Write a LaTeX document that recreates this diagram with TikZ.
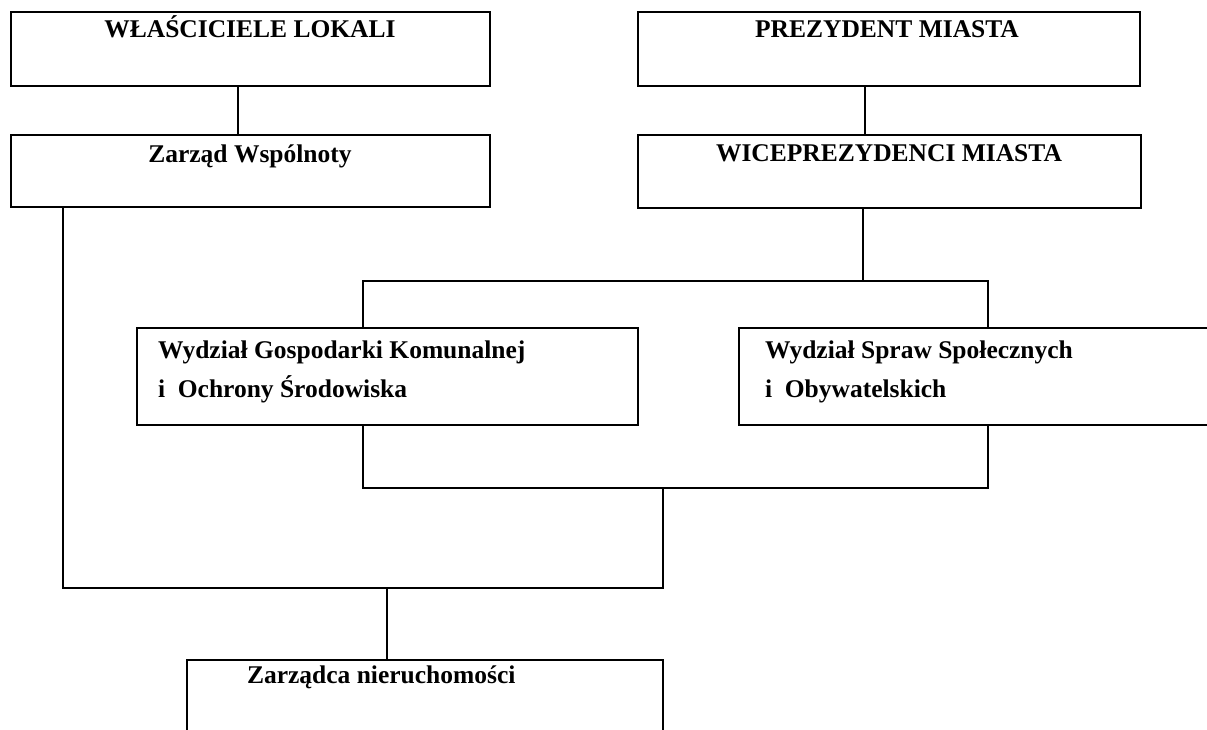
\documentclass[tikz,border=0pt]{standalone}
\usepackage{fontspec}
\setmainfont{Liberation Serif}
\begin{document}
\begin{tikzpicture}[x=1pt,y=-1pt,
  box/.style={draw=black, line width=2pt, inner sep=0pt, outer sep=0pt, minimum width=#1},
  lbl/.style={inner sep=0pt, outer sep=0pt, font=\fontsize{25.5}{39}\selectfont\bfseries},
  conn/.style={draw=black, line width=2pt, line join=miter}]
\useasboundingbox (0,0) rectangle (1207,729);
\clip (0,0) rectangle (1207,729);
% boxes
\node[box=479pt, minimum height=74pt] (wl) at (250.5,49) {};
\node[box=479pt, minimum height=72pt] (zw) at (250.5,171) {};
\node[box=502pt, minimum height=74pt] (pm) at (889,49) {};
\node[box=503pt, minimum height=73pt] (wp) at (889.5,171.5) {};
\node[box=501pt, minimum height=97pt] (gk) at (387.5,376.5) {};
\node[box=481pt, minimum height=97pt] (ss) at (979.5,376.5) {};
\node[box=476pt, minimum height=85pt] (zn) at (425,702.5) {};
% labels
\node[lbl, anchor=base] (twl) at (250,37) {WŁAŚCICIELE LOKALI};
\node[lbl, anchor=base] (tzw) at (250,162) {Zarząd Wspólnoty};
\node[lbl, anchor=base] (tpm) at (887,37) {PREZYDENT MIASTA};
\node[lbl, anchor=base] (twp) at (889,161) {WICEPREZYDENCI MIASTA};
\node[lbl, anchor=base west, align=left] (tgk) at (158,397) {Wydział Gospodarki Komunalnej\\i\ \ Ochrony Środowiska};
\node[lbl, anchor=base west, align=left] (tss) at (765,397) {Wydział Spraw Społecznych\\i\ \ Obywatelskich};
\node[lbl, anchor=base west] (tzn) at (247,683) {Zarządca nieruchomości};
% junction coordinates
\coordinate (c1) at (238,0);
\coordinate (c2) at (865,0);
\coordinate (c3) at (863,0);
\coordinate (b1l) at (363,281);
\coordinate (b1r) at (988,281);
\coordinate (b2l) at (363,488);
\coordinate (b2r) at (988,488);
\coordinate (b2m) at (663,488);
\coordinate (b3l) at (63,588);
\coordinate (b3r) at (663,588);
\coordinate (b3m) at (387,588);
% connectors
\draw[conn] (wl.south -| c1) -- (zw.north -| c1);
\draw[conn] (pm.south -| c2) -- (wp.north -| c2);
\draw[conn] (wp.south -| c3) -- (c3 |- b1l);
\draw[conn] (gk.north -| b1l) -- (b1l) -- (b1r) -- (ss.north -| b1r);
\draw[conn] (gk.south -| b2l) -- (b2l) -- (b2r) -- (ss.south -| b2r);
\draw[conn] (b2m) -- (b3r) -- (b3l) -- (zw.south -| b3l);
\draw[conn] (b3m) -- (zn.north -| b3m);
\end{tikzpicture}
\end{document}
